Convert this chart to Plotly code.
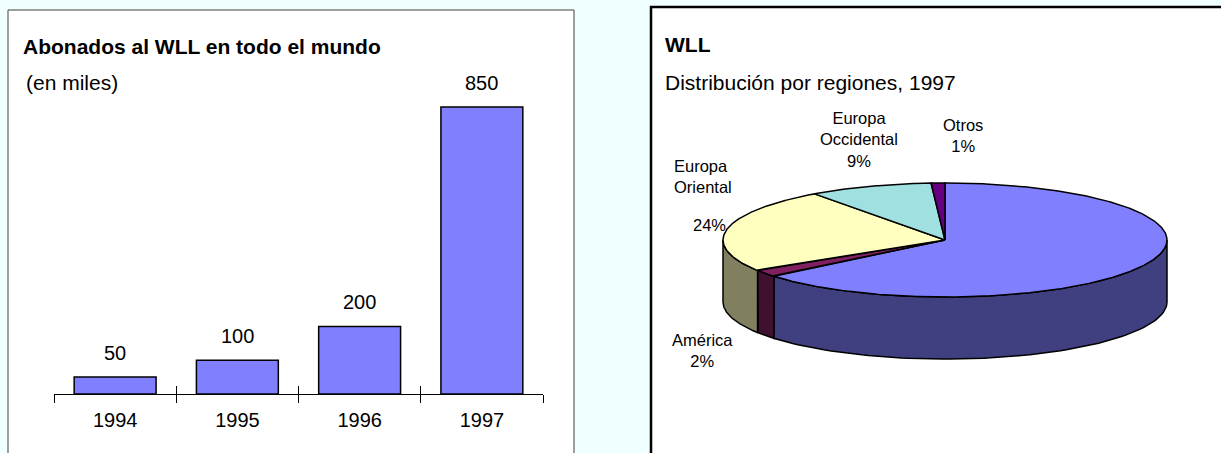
import numpy as np
import plotly.graph_objects as go

# ---------------- data ----------------
years = ["1994", "1995", "1996", "1997"]
subscribers = [50, 100, 200, 850]          # miles de abonados

regions = ["Asia", "América", "Europa Oriental", "Europa Occidental", "Otros"]
shares = [64, 2, 24, 9, 1]                 # %
top_colors = ["#8080FF", "#802060", "#FFFFC0", "#A0E0E0", "#660080"]
side_colors = ["#404080", "#401030", "#808060", "#507070", "#330040"]

# ---------------- helpers ----------------
W, H = 1221, 453
FONT = "Liberation Sans, Arial, sans-serif"


def px(x):
    return x / W


def py(y):
    return 1 - y / H


fig = go.Figure()

# ---------------- left: bar chart ----------------
fig.add_trace(go.Bar(
    x=years, y=subscribers, width=0.67,
    marker=dict(color="#8080FF", line=dict(color="black", width=1.5)),
    xaxis="x", yaxis="y", showlegend=False, hoverinfo="x+y"))
# invisible companion on overlay axis (gives the upward half of the ticks)
fig.add_trace(go.Scatter(
    x=years, y=subscribers, mode="markers", marker=dict(opacity=0),
    xaxis="x3", yaxis="y", showlegend=False, hoverinfo="skip"))

base_px, scale = 394, 287 / 850   # pixel baseline, px per unit
top_px = 60
ymax = (base_px - top_px) / scale

annotations = []
for i, v in enumerate(subscribers):
    annotations.append(dict(x=i, y=v, xref="x", yref="y", text=str(v),
                            showarrow=False, yanchor="middle", yshift=24,
                            font=dict(family=FONT, size=20, color="black")))

# ---------------- right: 3D pie ----------------
cx, cy, a, b, depth = 945, 240, 222, 57, 62


def rim(t_deg, drop=0.0):
    t = np.radians(t_deg)
    return cx + a * np.sin(t), cy - b * np.cos(t) + drop


total = sum(shares)
starts = np.concatenate([[0], np.cumsum(shares)[:-1]]) / total * 360
ends = np.cumsum(shares) / total * 360

# side walls (front half: 90..270 deg clockwise from top)
for s, e, col in zip(starts, ends, side_colors):
    t1, t2 = max(s, 90), min(e, 270)
    if t2 <= t1:
        continue
    ts = np.linspace(t1, t2, 80)
    xt, yt = rim(ts)
    xb, yb = rim(ts[::-1], depth)
    xs = np.concatenate([xt, xb, [xt[0]]])
    ys = np.concatenate([yt, yb, [yt[0]]])
    fig.add_trace(go.Scatter(x=xs, y=ys, mode="lines", fill="toself",
                             fillcolor=col, line=dict(color="black", width=1.5),
                             xaxis="x2", yaxis="y2", showlegend=False,
                             hoverinfo="skip"))

# top faces
for name, val, s, e, col in zip(regions, shares, starts, ends, top_colors):
    ts = np.linspace(s, e, max(int((e - s) * 2), 4))
    xr, yr_ = rim(ts)
    xs = np.concatenate([[cx], xr, [cx]])
    ys = np.concatenate([[cy], yr_, [cy]])
    fig.add_trace(go.Scatter(x=xs, y=ys, mode="lines", fill="toself",
                             fillcolor=col, line=dict(color="black", width=1.5),
                             xaxis="x2", yaxis="y2", showlegend=False,
                             name=name, text=f"{name}: {val}%",
                             hoverinfo="text"))

# pie labels (positions in panel pixels)
lab = dict(zip(regions, shares))
LF = dict(family=FONT, size=16.5, color="black")
pie_labels = [
    ("Europa<br>Occidental<br>%d%%" % lab["Europa Occidental"], 859, 139, "center"),
    ("Otros<br>%d%%" % lab["Otros"], 963, 135, "center"),
    ("Europa<br>Oriental", 672, 176, "left"),
    ("%d%%" % lab["Europa Oriental"], 691, 225, "left"),
    ("América<br>%d%%" % lab["América"], 702, 350, "center"),
]
for txt, x, y, anc in pie_labels:
    annotations.append(dict(x=x, y=y, xref="x2", yref="y2", text=txt,
                            showarrow=False, xanchor=anc, yanchor="middle",
                            align=anc, font=LF))

# titles
annotations += [
    dict(x=px(21), y=py(47), xref="paper", yref="paper", xanchor="left",
         yanchor="middle", showarrow=False,
         text="<b>Abonados al WLL en todo el mundo</b>",
         font=dict(family=FONT, size=21, color="black")),
    dict(x=px(24), y=py(82), xref="paper", yref="paper", xanchor="left",
         yanchor="middle", showarrow=False, text="(en miles)",
         font=dict(family=FONT, size=21, color="black")),
    dict(x=px(663), y=py(44), xref="paper", yref="paper", xanchor="left",
         yanchor="middle", showarrow=False, text="<b>WLL</b>",
         font=dict(family=FONT, size=21, color="black")),
    dict(x=px(663), y=py(82), xref="paper", yref="paper", xanchor="left",
         yanchor="middle", showarrow=False, text="Distribución por regiones, 1997",
         font=dict(family=FONT, size=21, color="black")),
]

shapes = [
    dict(type="rect", xref="paper", yref="paper", x0=px(8), x1=px(574),
         y0=py(10), y1=py(470), fillcolor="white",
         line=dict(color="#404040", width=1), layer="below"),
    dict(type="rect", xref="paper", yref="paper", x0=px(651), x1=px(1240),
         y0=py(7), y1=py(470), fillcolor="white",
         line=dict(color="black", width=2.5), layer="below"),
]

xcommon = dict(domain=[px(54), px(543)], type="category",
               categoryorder="array", categoryarray=years,
               range=[-0.5, len(years) - 0.5], tickson="boundaries",
               showgrid=False, zeroline=False, fixedrange=True)

fig.update_layout(
    width=W, height=H,
    margin=dict(l=0, r=0, t=0, b=0),
    paper_bgcolor="#F0FFFF", plot_bgcolor="rgba(0,0,0,0)",
    font=dict(family=FONT, color="black"),
    showlegend=False,
    xaxis=dict(**xcommon, anchor="y", ticks="outside", ticklen=8,
               tickcolor="black", tickwidth=1, showline=True,
               linecolor="black", linewidth=1, ticklabelstandoff=8,
               tickfont=dict(family=FONT, size=20, color="black")),
    xaxis3=dict(**xcommon, anchor="y", overlaying="x", ticks="inside",
                ticklen=8, tickcolor="black", tickwidth=1,
                showticklabels=False, showline=False),
    yaxis=dict(domain=[py(base_px), py(top_px)], range=[0, ymax],
               visible=False, fixedrange=True),
    xaxis2=dict(domain=[px(651), 1], range=[651, W], visible=False,
                fixedrange=True),
    yaxis2=dict(domain=[0, 1], range=[H, 0], visible=False,
                fixedrange=True, anchor="x2"),
    annotations=annotations,
    shapes=shapes,
)
fig.update_traces(selector=dict(xaxis="x2"), yaxis="y2")

fig.write_html("out.html",
               config=dict(displayModeBar=False),
               post_script="document.body.style.margin='0';"
                           "document.body.style.overflow='hidden';"
                           "document.body.style.background='#F0FFFF';")
